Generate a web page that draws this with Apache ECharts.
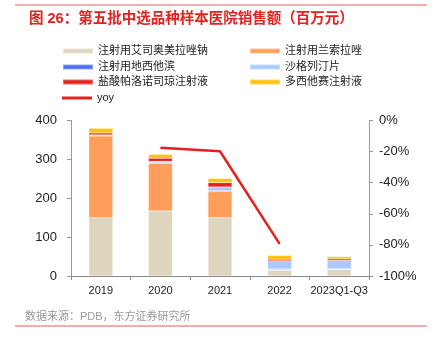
<!DOCTYPE html>
<html><head><meta charset="utf-8">
<script src="https://cdn.jsdelivr.net/npm/echarts@6/dist/echarts.min.js"></script>
<style>html,body{margin:0;padding:0;background:#fff}#c{width:436px;height:337px}</style>
</head><body><div id="c"></div>
<script>
var categories = ['2019', '2020', '2021', '2022', '2023Q1-Q3'];
var esomeprazole = [150, 167, 150, 15, 16];
var lansoprazole = [210, 123, 67, 1, 1];
var dexamethasone = [2, 1, 2, 2, 2];
var salbutamol = [1, 4, 10, 21, 21];
var palonosetron = [5, 8, 11, 4, 4];
var docetaxel = [12, 10, 11, 10, 6];
var yoy = [null, -17.6, -19.8, -79.3, null];
var leftTicks = [0, 100, 200, 300, 400];
var rightTicks = [-100, -80, -60, -40, -20, 0];

var names = ['注射用艾司奥美拉唑钠','注射用兰索拉唑','注射用地西他滨','沙格列汀片','盐酸帕洛诺司琼注射液','多西他赛注射液','yoy'];
var colors = ['#DED5BF','#FF9E5B','#4E6EF2','#A9C9FF','#E3211E','#FFC20E','#E3211E'];
var barData = [esomeprazole, lansoprazole, dexamethasone, salbutamol, palonosetron, docetaxel];
var font = '"Liberation Sans", "Noto Sans CJK SC", sans-serif';

var series = barData.map(function(d, i){
  return {name: names[i], type: 'bar', stack: 'a', barWidth: 24, data: d,
    itemStyle: {color: colors[i], borderColor: 'rgba(255,255,255,0.35)', borderWidth: 0.5}};
});
series.push({name: 'yoy', type: 'line', yAxisIndex: 1, data: yoy, showSymbol: false, symbol: 'none',
  lineStyle: {color: colors[6], width: 2.5}, itemStyle: {color: colors[6]}});

var chart = echarts.init(document.getElementById('c'));
function lg(name, left, cy, h) {
  h = h || 5;
  return {orient: 'vertical', itemWidth: 30, itemHeight: h, icon: 'rect', left: left, top: cy - 7, height: 14,
    textStyle: {fontSize: 11, color: '#222', fontFamily: font, lineHeight: 14}, data: [name]};
}
chart.setOption({
  animation: false,
  color: colors,
  title: {text: '图 26：第五批中选品种样本医院销售额（百万元）', left: 24, top: 7,
    textStyle: {fontSize: 14.5, fontWeight: 'bold', color: '#E3211E', fontFamily: font}},
  legend: [
    lg(names[0], 57, 46), lg(names[1], 244, 46),
    lg(names[2], 57, 62), lg(names[3], 244, 62),
    lg(names[4], 57, 77), lg(names[5], 244, 77),
    lg('yoy', 57, 93, 3)
  ],
  grid: {left: 71, right: 67, top: 120.5, bottom: 61, containLabel: false},
  xAxis: {type: 'category', data: categories,
    axisLine: {lineStyle: {color: '#888'}},
    axisTick: {show: true, alignWithLabel: false, length: 4, lineStyle: {color: '#888'}},
    axisLabel: {fontSize: 11, color: '#222', margin: 9, fontFamily: font, interval: 0}},
  yAxis: [
    {type: 'value', min: leftTicks[0], max: leftTicks[leftTicks.length-1], interval: 100,
      axisLine: {show: true, lineStyle: {color: '#999'}},
      axisTick: {show: true, length: 4, lineStyle: {color: '#999'}},
      splitLine: {show: false},
      axisLabel: {fontSize: 13, color: '#222', margin: 14, fontFamily: font}},
    {type: 'value', min: rightTicks[0], max: rightTicks[rightTicks.length-1], interval: 20,
      axisLine: {show: true, lineStyle: {color: '#999'}},
      axisTick: {show: true, length: 4, lineStyle: {color: '#999'}},
      splitLine: {show: false},
      axisLabel: {fontSize: 13, color: '#222', margin: 10, fontFamily: font, formatter: '{value}%'}}
  ],
  graphic: [
    {type: 'line', shape: {x1: 15, y1: 5, x2: 427, y2: 5}, style: {stroke: '#E8595A', lineWidth: 1.2}},
    {type: 'line', shape: {x1: 15, y1: 326, x2: 427, y2: 326}, style: {stroke: '#E8595A', lineWidth: 1.2}},
    {type: 'text', left: 25, top: 311, style: {text: '数据来源：PDB，东方证券研究所', fontSize: 11, fill: '#999', fontFamily: font}}
  ],
  series: series
});
</script></body></html>
